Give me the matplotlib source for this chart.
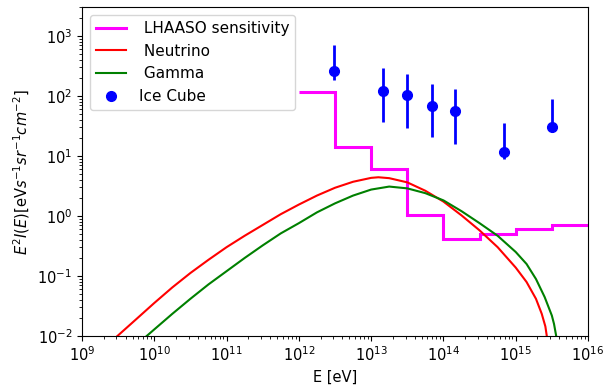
import numpy as np
import matplotlib
matplotlib.use("Agg")
import matplotlib.pyplot as plt

plt.rcParams['font.size'] = 10.5

# LHAASO sensitivity step levels (bin edges in eV, E^2 I values)
lhaaso_edges = [1e12, 3.16e12, 1e13, 3.16e13, 1e14, 3.16e14, 1e15, 3.16e15, 1e16]
lhaaso_vals = [117, 14, 6.0, 1.05, 0.41, 0.50, 0.60, 0.70]

# Neutrino curve (log10 E, log10 E^2 I)
nu_logE = [9.49, 9.75, 10.0, 10.25, 10.5, 10.75, 11.0, 11.25, 11.5, 11.75, 12.0, 12.25,
           12.5, 12.75, 13.0, 13.1, 13.25, 13.5, 13.75, 14.0, 14.25, 14.5, 14.75, 15.0,
           15.15, 15.28, 15.36, 15.41, 15.43]
nu_logF = [-2.0, -1.72, -1.45, -1.19, -0.95, -0.73, -0.52, -0.33, -0.15, 0.03, 0.19, 0.34,
           0.47, 0.57, 0.635, 0.645, 0.63, 0.56, 0.42, 0.24, 0.01, -0.24, -0.52, -0.86,
           -1.1, -1.38, -1.63, -1.84, -2.0]

# Gamma curve
ga_logE = [9.895, 10.0, 10.25, 10.5, 10.75, 11.0, 11.25, 11.5, 11.75, 12.0, 12.25, 12.5,
           12.75, 13.0, 13.25, 13.5, 13.75, 14.0, 14.25, 14.5, 14.75, 15.0, 15.15, 15.28,
           15.4, 15.5, 15.53, 15.56]
ga_logF = [-2.0, -1.89, -1.63, -1.38, -1.14, -0.92, -0.70, -0.49, -0.29, -0.12, 0.06, 0.21,
           0.34, 0.44, 0.49, 0.46, 0.38, 0.26, 0.08, -0.12, -0.33, -0.6, -0.8, -1.05,
           -1.35, -1.66, -1.8, -2.0]

# Ice Cube points
ic_E = [3.1e12, 1.48e13, 3.1e13, 6.9e13, 1.46e14, 6.9e14, 3.2e15]
ic_F = [263, 122, 102, 68, 57, 11.5, 30]
ic_hi = [708, 289, 233, 157, 131, 35.9, 88]
ic_lo = [185, 36.6, 28.7, 20.5, 15.7, 8.8, 25]

fig = plt.figure(figsize=(6.03, 3.88), dpi=100)
ax = fig.add_axes([82/603, 1-336/388, (588-82)/603, (336-7.3)/388])

ax.stairs(lhaaso_vals, lhaaso_edges, color='magenta', lw=2.2, baseline=None,
          label=' LHAASO sensitivity')
ax.plot(10**np.array(nu_logE), 10**np.array(nu_logF), color='red', lw=1.5, label=' Neutrino')
ax.plot(10**np.array(ga_logE), 10**np.array(ga_logF), color='green', lw=1.5, label=' Gamma')

ic_F_arr = np.array(ic_F)
yerr = [ic_F_arr - np.array(ic_lo), np.array(ic_hi) - ic_F_arr]
ax.errorbar(ic_E, ic_F, yerr=yerr, fmt='none', ecolor='blue', elinewidth=2)
ax.plot(ic_E, ic_F, 'o', color='blue', markersize=7, label='Ice Cube')

ax.set_xscale('log')
ax.set_yscale('log')
ax.set_xlim(1e9, 1e16)
ax.set_ylim(1e-2, 3e3)
ax.set_xlabel('E [eV]')
ax.set_ylabel(r'$E^2I(E)$[eV$s^{-1}sr^{-1}cm^{-2}$]')
ax.legend(loc='upper left', fontsize=11)

fig.savefig('out.png', dpi=100)
